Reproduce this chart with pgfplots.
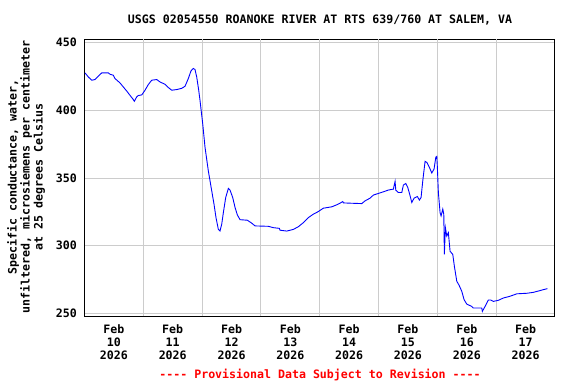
\documentclass[border=0pt]{standalone}
\usepackage{fontspec}
\usepackage{pgfplots}
\pgfplotsset{compat=1.18}
\newfontfamily\usgs{DejaVu Sans Mono}
\newcommand\uf{\usgs\bfseries\fontsize{11.6bp}{13bp}\selectfont}
\definecolor{gridgray}{RGB}{204,204,204}
\begin{document}
\begin{tikzpicture}
\begin{axis}[
  at={(84.5bp,68bp)}, anchor=south west,
  scale only axis, width=470.5bp, height=276.5bp,
  xmin=0, xmax=8, ymin=248.0, ymax=452.4,
  axis line style={black, line width=1bp},
  major tick length=0,
  /pgf/number format/assume math mode=true,
  ytick={250,300,350,400,450},
  ymajorgrids, 
  grid style={gridgray, line width=1bp},
  yticklabel style={font=\uf, inner sep=0pt, xshift=-7.5bp},
  xtick={0.5,1.5,2.5,3.5,4.5,5.5,6.5,7.5},
  xticklabels={Feb\\10\\2026,Feb\\11\\2026,Feb\\12\\2026,Feb\\13\\2026,Feb\\14\\2026,Feb\\15\\2026,Feb\\16\\2026,Feb\\17\\2026},
  xticklabel style={font=\uf, align=center, inner sep=0pt, yshift=-8bp},
  extra x ticks={1,2,3,4,5,6,7},
  extra x tick labels={},
  extra x tick style={xmajorgrids=true, major grid style={gridgray, line width=1bp}},
]
\addplot[blue, line width=0.9bp, mark=none] coordinates {
(0.009,427.7)(0.065,424.7)(0.122,422.3)(0.179,422.8)(0.235,425.3)(0.293,427.7)
(0.405,427.7)(0.434,426.7)(0.490,426.0)(0.519,423.5)(0.604,420.3)(0.660,417.3)
(0.718,414.3)(0.774,411.1)(0.830,408.0)(0.847,406.7)(0.888,410.0)(0.915,411.0)
(0.973,411.4)(1.029,414.9)(1.085,419.1)(1.143,422.3)(1.228,422.8)(1.284,421.0)
(1.369,419.3)(1.425,416.9)(1.483,414.9)(1.568,415.4)(1.653,416.3)(1.709,417.8)
(1.765,423.5)(1.811,429.2)(1.850,431.0)(1.879,430.2)(1.908,424.7)(1.942,414.9)
(1.964,407.4)(2.010,390.1)(2.049,372.8)(2.105,355.4)(2.163,340.6)(2.202,330.7)
(2.236,320.7)(2.276,312.0)(2.304,310.8)(2.333,315.8)(2.361,324.4)(2.401,335.6)
(2.446,342.3)(2.474,341.1)(2.520,335.6)(2.560,328.2)(2.599,322.7)(2.645,319.2)
(2.769,318.8)(2.844,316.6)(2.900,314.6)(3.126,314.3)(3.211,313.3)(3.313,312.8)
(3.325,311.4)(3.439,310.8)(3.551,312.0)(3.636,314.0)(3.721,317.0)(3.806,320.7)
(3.891,323.3)(3.976,325.2)(4.061,327.7)(4.204,328.7)(4.289,330.2)(4.345,331.4)
(4.391,332.6)(4.405,331.6)(4.515,331.4)(4.714,331.1)(4.770,333.1)(4.855,335.1)
(4.912,337.4)(4.997,338.6)(5.082,339.8)(5.167,341.1)(5.252,341.8)(5.281,347.5)
(5.293,341.0)(5.337,339.3)(5.395,339.3)(5.422,344.8)(5.463,346.0)(5.497,343.0)
(5.536,336.9)(5.565,331.9)(5.604,335.1)(5.660,336.3)(5.694,333.7)(5.723,335.6)
(5.752,348.0)(5.791,362.3)(5.820,361.6)(5.864,357.9)(5.905,353.7)(5.944,356.7)
(5.973,365.3)(5.990,366.0)(6.000,357.9)(6.017,339.3)(6.046,324.4)(6.063,322.0)
(6.092,327.0)(6.109,323.3)(6.119,293.5)(6.136,313.3)(6.160,307.1)(6.187,309.6)
(6.216,295.9)(6.262,293.5)(6.289,284.8)(6.330,273.7)(6.369,270.7)(6.415,266.3)
(6.454,260.1)(6.500,256.8)(6.583,255.1)(6.612,253.9)(6.755,253.9)(6.765,251.4)
(6.811,255.1)(6.867,259.8)(6.908,259.8)(6.952,258.8)(7.037,259.6)(7.122,261.3)
(7.236,262.6)(7.350,264.4)(7.520,264.8)(7.633,265.5)(7.747,266.8)(7.803,267.5)
(7.871,268.2)
};
\end{axis}
\node[font=\uf, inner sep=0pt] at (320bp,364bp) {USGS 02054550 ROANOKE RIVER AT RTS 639/760 AT SALEM, VA};
\node[font=\uf, inner sep=0pt, rotate=90, align=center] at (26bp,207bp) {Specific conductance, water,\\unfiltered, microsiemens per centimeter\\at 25 degrees Celsius};
\node[font=\uf, inner sep=0pt, text=red] at (320bp,9bp) {---- Provisional Data Subject to Revision ----};
\pgfresetboundingbox
\path (0,0) rectangle (576bp,384bp);
\end{tikzpicture}
\end{document}
